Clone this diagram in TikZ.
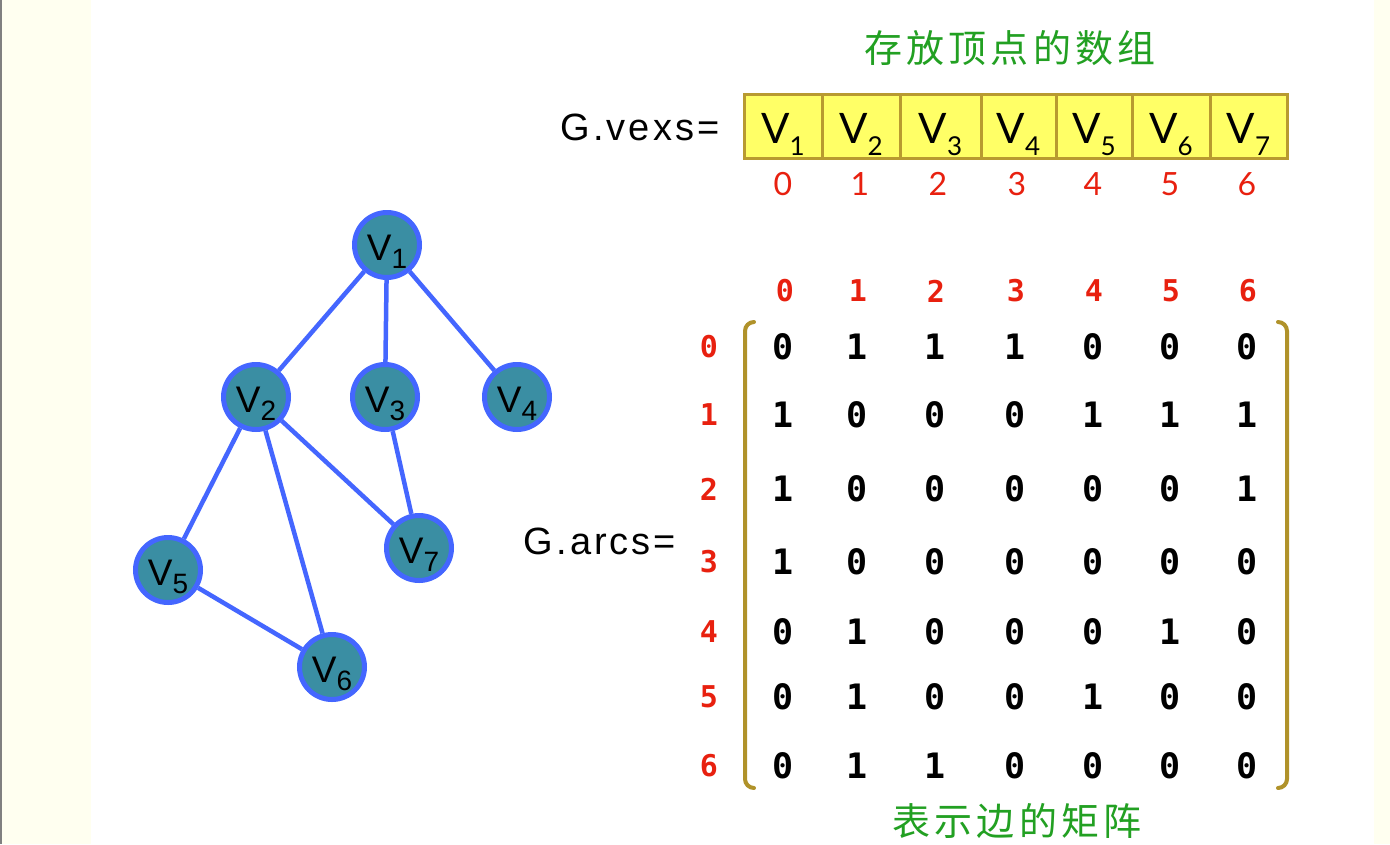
\documentclass[tikz,border=0pt]{standalone}
\usepackage{fontspec}
\setmainfont{Liberation Sans}
\newfontfamily\arialf{Liberation Sans}
\newfontfamily\arialwide[LetterSpace=8]{Liberation Sans}
\newfontfamily\gillf{Lato}
\newfontfamily\monof{DejaVu Sans Mono}
\newfontfamily\cjkf[LetterSpace=11]{Noto Sans CJK SC}
\definecolor{cream}{HTML}{FFFFF0}
\definecolor{cellfill}{HTML}{FFFF66}
\definecolor{cellborder}{HTML}{B89A30}
\definecolor{idxred}{HTML}{E8200F}
\definecolor{titlegreen}{HTML}{22A022}
\definecolor{nodefill}{HTML}{3A8EA3}
\definecolor{nodeblue}{HTML}{4466FF}
\definecolor{brkcol}{HTML}{B0922A}
\newcommand\gsub[1]{\raisebox{-8pt}{\fontsize{28}{28}\selectfont #1}}
\newcommand\csub[1]{\raisebox{-12pt}{\fontsize{26}{26}\selectfont #1}}
\tikzset{
  vert/.style={circle, draw=nodeblue, fill=nodefill, line width=5pt,
    minimum size=65pt, inner sep=0pt, text height=38pt, text depth=8pt,
    font=\arialf\fontsize{37}{37}\selectfont},
  edge/.style={draw=nodeblue, line width=4.5pt},
  cell/.style={rectangle, draw=cellborder, fill=cellfill, line width=3pt,
    minimum height=64pt, inner sep=0pt, text height=46pt, text depth=12pt,
    font=\gillf\fontsize{42}{42}\selectfont},
  idx/.style={text=idxred, inner sep=0pt, font=\gillf\fontsize{32}{32}\selectfont},
  lab/.style={text=idxred, inner sep=0pt, font=\monof\bfseries\fontsize{30}{30}\selectfont},
  ent/.style={text=black, inner sep=0pt, font=\monof\bfseries\fontsize{35}{35}\selectfont},
  gtitle/.style={text=titlegreen, inner sep=0pt, font=\cjkf\fontsize{38}{38}\selectfont},
  eqtext/.style={inner sep=0pt, font=\arialwide\fontsize{38}{38}\selectfont},
  brk/.style={draw=brkcol, line width=4pt, line cap=round, rounded corners=9pt}
}
\begin{document}
\begin{tikzpicture}[x=1pt,y=-1pt]
\useasboundingbox (0,0) rectangle (1390,844);
\fill[white] (0,0) rectangle (1390,844);
\fill[cream] (0,0) rectangle (91,844);
\fill[cream] (1374,0) rectangle (1390,844);
\fill[gray] (0,0) rectangle (1.5,844);

% titles
\node[gtitle] (t1) at (1010,48) {存放顶点的数组};
\node[gtitle] (t2) at (1017,821) {表示边的矩阵};

% G.vexs
\node[eqtext] (gv) at (640,127) {G.vexs=};
\node[cell, minimum width=78pt] (c1) at (783,126) {V\csub{1}};
\node[cell, minimum width=78pt] (c2) at (861,126) {V\csub{2}};
\node[cell, minimum width=81pt] (c3) at (940.5,126) {V\csub{3}};
\node[cell, minimum width=75pt] (c4) at (1018.5,126) {V\csub{4}};
\node[cell, minimum width=76pt] (c5) at (1094,126) {V\csub{5}};
\node[cell, minimum width=78pt] (c6) at (1171,126) {V\csub{6}};
\node[cell, minimum width=77pt] (c7) at (1248.5,126) {V\csub{7}};
\foreach \i/\x in {0/783,1/860,2/938,3/1017,4/1093,5/1170,6/1247}
  \node[idx] (i\i) at (\x,184) {\i};

% graph
\node[vert] (v1) at (387,245) {V\gsub{1}};
\node[vert] (v2) at (256,397) {V\gsub{2}};
\node[vert] (v3) at (385,397) {V\gsub{3}};
\node[vert] (v4) at (517,397) {V\gsub{4}};
\node[vert] (v5) at (168,570) {V\gsub{5}};
\node[vert] (v6) at (332,667) {V\gsub{6}};
\node[vert] (v7) at (419,548) {V\gsub{7}};
\draw[edge] (v1) -- (v2);
\draw[edge] (v1) -- (v3);
\draw[edge] (v1) -- (v4);
\draw[edge] (v2) -- (v5);
\draw[edge] (v2) -- (v6);
\draw[edge] (v2) -- (v7);
\draw[edge] (v3) -- (v7);
\draw[edge] (v5) -- (v6);

% G.arcs
\node[eqtext] (ga) at (600,541) {G.arcs=};
\foreach \j/\x in {0/785,1/858,2/936,3/1016,4/1094,5/1171,6/1248}
  \node[lab] (col\j) at (\x,291) {\j};
\foreach \i/\y in {0/347,1/415,2/489,3/562,4/632,5/697,6/766}
  \node[lab] (row\i) at (709,\y) {\i};
\foreach \row [count=\i from 0] in {{0,1,1,1,0,0,0},{1,0,0,0,1,1,1},{1,0,0,0,0,0,1},{1,0,0,0,0,0,0},{0,1,0,0,0,1,0},{0,1,0,0,1,0,0},{0,1,1,0,0,0,0}}{
  \foreach \v [count=\j from 0] in \row {
    \pgfmathsetmacro\xx{{783,857,935,1015,1093,1170,1247}[\j]}
    \pgfmathsetmacro\yy{{347,415,489,562,632,697,766}[\i]}
    \node[ent] (m\i\j) at (\xx,\yy) {\v};
  }
}
\coordinate (lb1) at (754,322);
\coordinate (lb2) at (745,322);
\coordinate (lb3) at (745,788);
\coordinate (lb4) at (754,788);
\coordinate (rb1) at (1278,322);
\coordinate (rb2) at (1287,322);
\coordinate (rb3) at (1287,788);
\coordinate (rb4) at (1278,788);
\draw[brk] (lb1) -- (lb2) -- (lb3) -- (lb4);
\draw[brk] (rb1) -- (rb2) -- (rb3) -- (rb4);
\end{tikzpicture}
\end{document}
